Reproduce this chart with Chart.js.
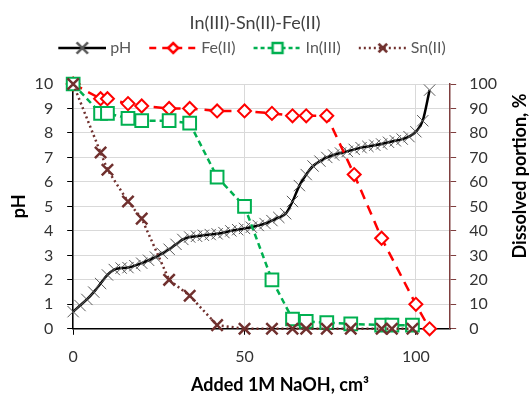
<!DOCTYPE html>
<html>
<head>
<meta charset="utf-8">
<script src="https://cdn.jsdelivr.net/npm/chart.js@4.4.1/dist/chart.umd.min.js"></script>
<style>
  html, body { margin: 0; padding: 0; background: #fff; }
  #wrap { width: 531px; height: 396px; }
</style>
</head>
<body>
<div id="wrap"><canvas id="chart"></canvas></div>
<script>
// --- data
const chartTitle = 'In(III)-Sn(II)-Fe(II)';
const xTitle = 'Added 1M NaOH, cm³';
const yTitle = 'pH';
const y2Title = 'Dissolved portion, %';

const phVolume = [0, 2, 4, 6, 8, 10, 12, 14, 16, 18, 20, 22, 24, 26, 28, 30, 32, 34, 36, 38,
  40, 42, 44, 46, 48, 50, 52, 54, 56, 58, 60, 62, 64, 66, 68, 70, 72, 74, 76, 78,
  80, 82, 84, 86, 88, 90, 92, 94, 96, 98, 100, 102, 104];
const phValues = [0.7, 0.95, 1.2, 1.5, 1.85, 2.2, 2.42, 2.48, 2.5, 2.58, 2.68, 2.8, 2.93, 3.08, 3.25, 3.45, 3.65, 3.75, 3.78, 3.82,
  3.85, 3.88, 3.93, 4.0, 4.05, 4.1, 4.15, 4.22, 4.3, 4.42, 4.55, 4.7, 5.2, 5.85, 6.3, 6.65, 6.85, 7.0, 7.1, 7.18,
  7.25, 7.33, 7.4, 7.45, 7.5, 7.55, 7.62, 7.68, 7.75, 7.85, 8.05, 8.5, 9.75];

const feVolume    = [0, 8, 10, 16, 20, 28, 34, 42, 50, 58, 64, 68, 74, 82, 90, 100, 104];
const feDissolved = [100, 94, 94, 92, 91, 90, 90, 89, 89, 88, 87, 87, 87, 63, 37, 10, 0];

const metalVolume = [0, 8, 10, 16, 20, 28, 34, 42, 50, 58, 64, 68, 74, 81, 90, 93, 99];
const inDissolved = [100, 88, 88, 86, 85, 85, 84, 62, 50, 20, 4, 3, 2.5, 2, 1.5, 1.5, 1.5];
const snDissolved = [100, 72, 65, 52, 45, 20, 13.5, 1.5, 0, 0, 0, 0, 0, 0, 0, 0, 0];

const xTicks = [0, 50, 100];

const FONT = 'Lato';
const C_PH = '#000000', C_PH_MARK = '#595959';
const C_FE = '#ff0000', C_IN = '#00b050', C_SN = '#70302e';
const C_GRID = '#d9d9d9', C_TEXT = '#333333', C_R_AXIS = '#7f3f3f';

Chart.defaults.font.family = FONT;

const toPoints = (xs, ys) => xs.map((x, i) => ({ x, y: ys[i] }));

// little canvas used as legend symbol: line segment with the marker in the middle
function legendSwatch(color, dash, lineWidth, marker) {
  const cv = document.createElement('canvas');
  cv.width = 54; cv.height = 16;
  const c = cv.getContext('2d');
  c.strokeStyle = color;
  c.lineWidth = lineWidth;
  c.setLineDash(dash);
  c.beginPath(); c.moveTo(6, 8); c.lineTo(54, 8); c.stroke();
  c.setLineDash([]);
  c.strokeStyle = marker.border;
  c.fillStyle = marker.fill || 'rgba(0,0,0,0)';
  Chart.helpers.drawPoint(c, {
    pointStyle: marker.style, radius: marker.radius, rotation: 0, borderWidth: marker.width
  }, 30, 8);
  return cv;
}

const swatches = [
  legendSwatch(C_PH, [], 2.5, { style: 'crossRot', radius: 8, border: C_PH_MARK, width: 1 }),
  legendSwatch(C_FE, [7, 6], 2.5, { style: 'rectRot', radius: 5, border: C_FE, fill: '#fff', width: 2.5 }),
  legendSwatch(C_IN, [4, 3], 2.5, { style: 'rect', radius: 7, border: C_IN, fill: '#fff', width: 2 }),
  legendSwatch(C_SN, [2, 3], 2.5, { style: 'crossRot', radius: 6, border: C_SN, width: 2.5 })
];

// a bit more room between the legend and the plot
const legendGap = {
  id: 'legendGap',
  afterInit(chart) {
    const fit = chart.legend.fit;
    chart.legend.fit = function () { fit.call(this); this.height += 18; };
  }
};

// axis titles drawn by hand (right one reads bottom-to-top, x one sits off-centre)
const extraTitles = {
  id: 'extraTitles',
  afterDraw(chart) {
    const c = chart.ctx;
    c.save();
    c.fillStyle = '#000';
    c.textAlign = 'center';
    c.textBaseline = 'middle';
    c.font = `bold 18px ${FONT}`;
    c.fillText(xTitle, 280, 385);
    c.translate(520, 176);
    c.rotate(-Math.PI / 2);
    c.fillText(y2Title, 0, 0);
    c.restore();
  }
};

const ctx = document.getElementById('chart').getContext('2d');
new Chart(ctx, {
  type: 'line',
  data: {
    datasets: [
      {
        label: 'pH', data: toPoints(phVolume, phValues), yAxisID: 'y', order: 3,
        borderColor: C_PH, borderWidth: 2.5, cubicInterpolationMode: 'monotone',
        pointStyle: 'crossRot', pointRadius: 8, pointBorderColor: C_PH_MARK, pointBorderWidth: 1,
        clip: false
      },
      {
        label: 'Fe(II)', data: toPoints(feVolume, feDissolved), yAxisID: 'y2', order: 2,
        borderColor: C_FE, borderWidth: 2.5, borderDash: [10, 7],
        pointStyle: 'rectRot', pointRadius: 6.5, pointBorderColor: C_FE, pointBackgroundColor: '#fff', pointBorderWidth: 2,
        clip: false
      },
      {
        label: 'In(III)', data: toPoints(metalVolume, inDissolved), yAxisID: 'y2', order: 1,
        borderColor: C_IN, borderWidth: 2.5, borderDash: [6, 4],
        pointStyle: 'rect', pointRadius: 9, pointBorderColor: C_IN, pointBackgroundColor: '#fff', pointBorderWidth: 2,
        clip: false
      },
      {
        label: 'Sn(II)', data: toPoints(metalVolume, snDissolved), yAxisID: 'y2', order: 0,
        borderColor: C_SN, borderWidth: 2.5, borderDash: [2, 3],
        pointStyle: 'crossRot', pointRadius: 8, pointBorderColor: C_SN, pointBorderWidth: 2.5,
        clip: false
      }
    ]
  },
  options: {
    responsive: true, maintainAspectRatio: false, animation: false,
    layout: { padding: { left: 0, right: 21, top: 0, bottom: 18 } },
    plugins: {
      title: {
        display: true, text: chartTitle, color: '#404040',
        font: { family: FONT, size: 18, weight: 'normal', lineHeight: 1 }, padding: { top: 14, bottom: 0 }
      },
      legend: {
        position: 'top',
        labels: {
          usePointStyle: true, pointStyleWidth: 46, color: '#595959', padding: 8,
          font: { family: FONT, size: 16 },
          sort: (a, b) => a.datasetIndex - b.datasetIndex,
          generateLabels: (chart) => chart.data.datasets.map((d, i) => ({
            text: d.label + '\u2002', datasetIndex: i, pointStyle: swatches[i],
            fillStyle: 'transparent', strokeStyle: 'transparent', lineWidth: 0, fontColor: '#595959'
          }))
        }
      },
      tooltip: { enabled: false }
    },
    scales: {
      x: {
        type: 'linear', min: 0, max: 110,
        afterBuildTicks: (s) => { s.ticks = xTicks.map(v => ({ value: v })); },
        grid: { color: C_GRID, tickColor: '#000', tickLength: 6 },
        border: { color: '#000', width: 1.5 },
        ticks: { color: C_TEXT, padding: 12, font: { size: 16 } }
      },
      y: {
        position: 'left', min: 0, max: 10,
        grid: { color: C_GRID, tickColor: '#000', tickLength: 6 },
        border: { color: '#000', width: 1.5 },
        ticks: { stepSize: 1, color: C_TEXT, padding: 14, font: { size: 16 } },
        title: { display: true, text: yTitle, color: '#000', font: { size: 18, weight: 'bold' }, padding: { top: 8, bottom: -9 } }
      },
      y2: {
        position: 'right', min: 0, max: 100,
        grid: { drawOnChartArea: false, tickColor: C_R_AXIS, tickLength: 6 },
        border: { color: C_R_AXIS, width: 1.5 },
        ticks: { stepSize: 10, color: C_TEXT, padding: 13, font: { size: 16 } }
      }
    }
  },
  plugins: [legendGap, extraTitles]
});
</script>
</body>
</html>
